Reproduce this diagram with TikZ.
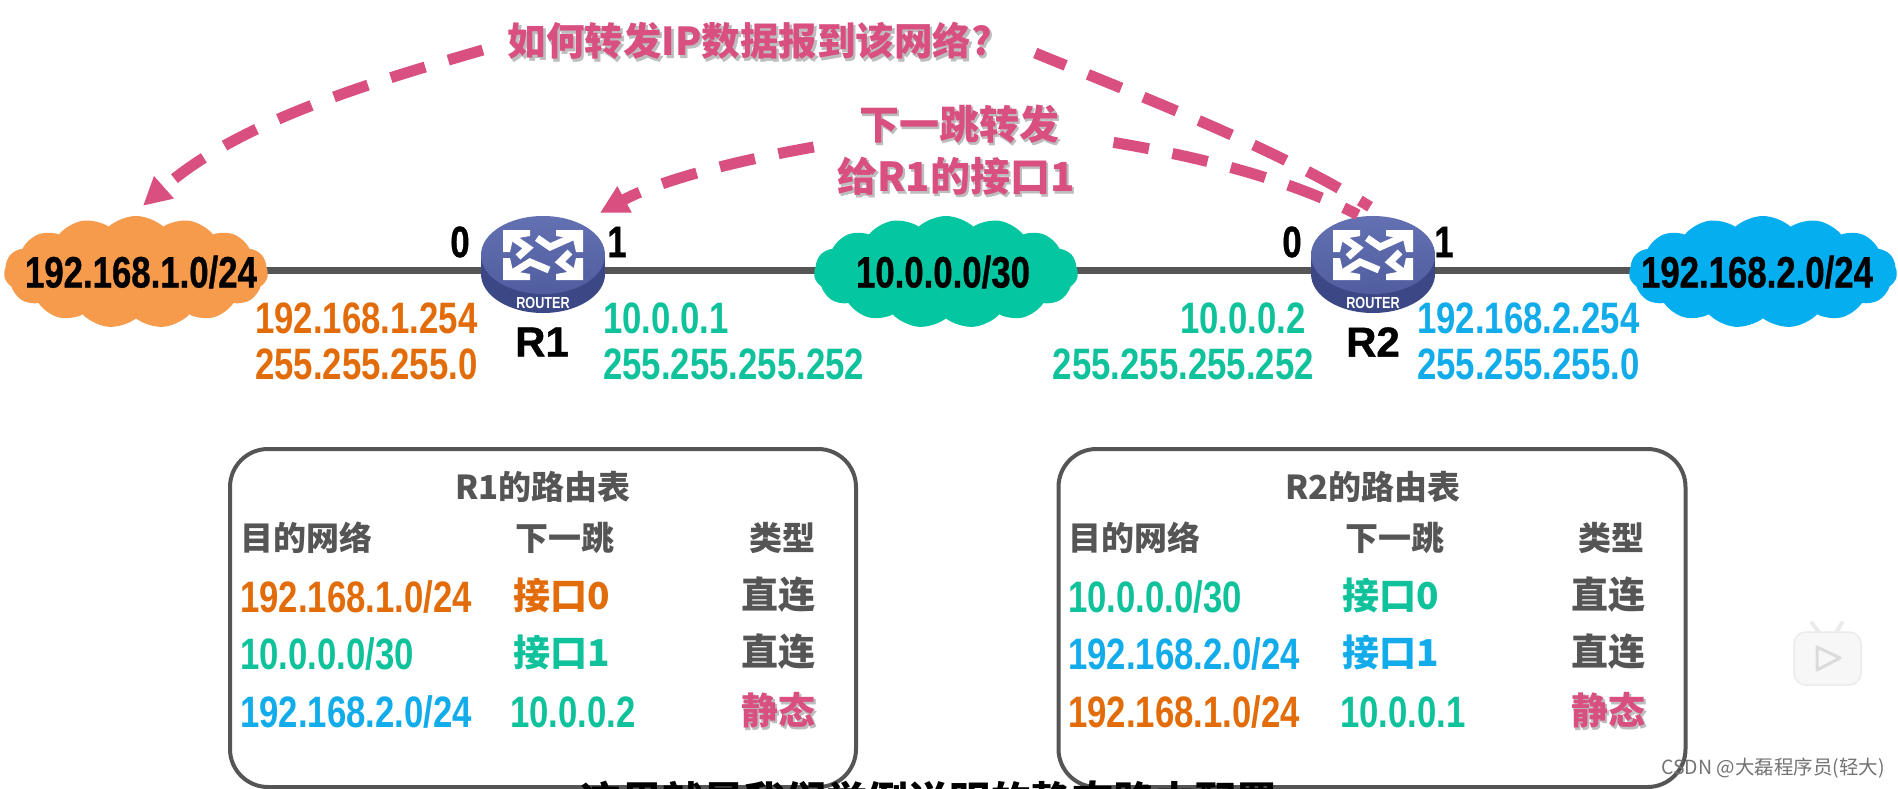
\documentclass[tikz,border=0pt]{standalone}
\usepackage{fontspec}
\usetikzlibrary{arrows.meta,shapes.symbols,shapes.geometric}
\newfontfamily\nf[FakeStretch=0.79]{Liberation Sans}
\newfontfamily\hv[FakeStretch=0.79,BoldFeatures={FakeBold=0.7}]{Liberation Sans}
\newfontfamily\rf[BoldFeatures={FakeBold=1.0}]{Liberation Sans}
\newfontfamily\cjk{Noto Sans CJK SC}
\newfontfamily\cjksh[BoldFeatures={FakeBold=1.4}]{Noto Sans CJK SC}
\definecolor{orangeT}{HTML}{E36C0A}
\definecolor{greenT}{HTML}{10C29B}
\definecolor{blueT}{HTML}{12ACEA}
\definecolor{pinkT}{HTML}{D84F80}
\definecolor{greyT}{HTML}{555555}
\definecolor{orangeC}{HTML}{F69A4C}
\definecolor{greenC}{HTML}{04C6A0}
\definecolor{blueC}{HTML}{04AEEF}
\definecolor{shadowT}{HTML}{BDBDBD}
\definecolor{routerS}{HTML}{3C4786}
\definecolor{routerA}{HTML}{6370B2}
\definecolor{routerB}{HTML}{505D9F}
\newcommand{\pinkt}[1]{\rlap{\raisebox{-2pt}{\hspace{1.5pt}\color{shadowT}\cjksh\bfseries #1}}#1}
\pgfdeclarelayer{bg}
\pgfsetlayers{bg,main}
\tikzset{
  num/.style={font=\nf\bfseries\fontsize{44}{48}\selectfont,inner sep=0pt,anchor=west},
  numE/.style={num,anchor=east},
  cjkbox/.style={font=\cjk\bfseries\fontsize{33}{38}\selectfont,inner sep=0pt,text=greyT},
  cjkrow/.style={font=\cjk\bfseries\fontsize{37}{42}\selectfont,inner sep=0pt},
  pinklab/.style={font=\cjk\bfseries\fontsize{40}{46}\selectfont,inner sep=0pt,text=pinkT},
  netcloud/.style={cloud,cloud puffs=15,cloud puff arc=85,aspect=2.3,inner sep=0pt,
     minimum width=264pt,minimum height=112pt,font=\hv\bfseries\fontsize{44}{48}\selectfont},
  routernode/.style={ellipse,minimum width=124pt,minimum height=86pt,inner sep=0pt},
  portlab/.style={font=\hv\bfseries\fontsize{44}{48}\selectfont,inner sep=0pt},
  rlab/.style={font=\rf\bfseries\fontsize{42}{46}\selectfont,inner sep=0pt},
  link/.style={line width=7pt,draw=greyT},
  pinkdash/.style={draw=pinkT,line width=11pt,dash pattern=on 36pt off 24pt},
  pinkhead/.style={-{Triangle[length=28pt,width=28pt]}},
  tablebox/.style={draw=greyT,line width=4pt,rounded corners=38pt},
  icon/.style={fill=white,draw=none},
  shaft/.style={draw=white,line width=7pt,line join=miter},
}
\newcommand{\routerdraw}[2]{%
  \node[routernode] (#1) at (#2,270) {};
  \begin{scope}[shift={(#2,0)}]
    \fill[routerS] (0,274) ellipse [x radius=62pt,y radius=39pt];
    \fill[routerS] (-62,255) rectangle (62,274);
    \shade[top color=routerA,bottom color=routerB] (0,255) ellipse [x radius=62pt,y radius=39pt];
    \fill[icon] (-40,230) -- (-13,230) -- (-13,236) -- (-30,239) -- (-33,252) -- (-40,252) -- cycle;
    \draw[shaft] (-34,235) -- (-15,248) -- (-25,257);
    \fill[icon] (40,230) -- (13,230) -- (13,236) -- (30,239) -- (33,252) -- (40,252) -- cycle;
    \draw[shaft] (34,235) -- (7,247) -- (-6,238);
    \fill[icon] (40,280) -- (13,280) -- (13,274) -- (30,271) -- (33,258) -- (40,258) -- cycle;
    \draw[shaft] (34,275) -- (17,262) -- (27,252);
    \fill[icon] (-40,280) -- (-13,280) -- (-13,274) -- (-30,271) -- (-33,258) -- (-40,258) -- cycle;
    \draw[shaft] (-34,275) -- (-13,262) -- (6,270);
    \node[inner sep=0pt,text=white,font=\nf\bfseries\fontsize{16}{17}\selectfont] (#1lab) at (0,303) {ROUTER};
  \end{scope}
}
\begin{document}
\begin{tikzpicture}[x=1pt,y=-1pt]
\useasboundingbox (0,0) rectangle (1898,788);
\begin{pgfonlayer}{bg}
  \fill[white] (0,0) rectangle (1898,788);
\end{pgfonlayer}

% clouds
\node[netcloud,fill=orangeC] (c1) at (136,272) {\makebox[0pt]{\hspace{10pt}\raisebox{-1pt}{192.168.1.0/24}}};
\node[netcloud,fill=greenC] (c2) at (946,272) {\makebox[0pt]{\hspace{-6pt}\raisebox{-1pt}{10.0.0.0/30}}};
\node[netcloud,fill=blueC,minimum width=268pt] (c3) at (1763,272) {\makebox[0pt]{\hspace{-12pt}\raisebox{-1pt}{192.168.2.0/24}}};

% routers
\routerdraw{r1}{543}
\routerdraw{r2}{1373}

\begin{pgfonlayer}{bg}
  \draw[link] (c1 |- r1) -- (r1);
  \draw[link] (r1) -- (c2 |- r1);
  \draw[link] (c2 |- r2) -- (r2);
  \draw[link] (r2) -- (c3 |- r2);
\end{pgfonlayer}

% port labels
\node[portlab] (p10) at (460,242) {0};
\node[portlab] (p11) at (617,242) {1};
\node[portlab] (p20) at (1292,242) {0};
\node[portlab] (p21) at (1444,242) {1};
\node[rlab] (r1name) at (542,342) {R1};
\node[rlab] (r2name) at (1373,342) {R2};

% addresses
\node[num,text=orangeT] (a1) at (255,318) {192.168.1.254};
\node[num,text=orangeT] (a2) at (255,364) {255.255.255.0};
\node[num,text=greenT] (a3) at (603,318) {10.0.0.1};
\node[num,text=greenT] (a4) at (603,364) {255.255.255.252};
\node[numE,text=greenT] (a5) at (1306,318) {10.0.0.2};
\node[numE,text=greenT] (a6) at (1314,364) {255.255.255.252};
\node[num,text=blueT] (a7) at (1417,318) {192.168.2.254};
\node[num,text=blueT] (a8) at (1417,364) {255.255.255.0};

% pink labels
\node[pinklab,font=\cjk\bfseries\fontsize{38.5}{44}\selectfont] (lab1) at (750,42) {\pinkt{如何转发IP数据报到该网络?}};
\node[pinklab] (lab2a) at (959,125) {\pinkt{下一跳转发}};
\node[pinklab] (lab2b) at (956,177) {\pinkt{给R1的接口1}};

% pink connectors
\draw[pinkdash,pinkhead] ([shift={(-25,8)}]lab1.west) .. controls (380,80) and (240,120) .. ([shift={(7,-10)}]c1.north);
\draw[pinkdash,dash phase=24pt] ([shift={(-3,-20)}]r2.north) .. controls (1280,150) and (1150,100) .. ([shift={(43,11)}]lab1.east);
\draw[pinkdash,pinkhead] ([shift={(-45,22)}]lab2a.west) .. controls (740,160) and (660,180) .. ([shift={(57,-14)}]r1.north);
\draw[pinkdash,dash phase=20pt] ([shift={(-15,-12)}]r2.north) .. controls (1300,185) and (1220,160) .. ([shift={(52,17)}]lab2a.east);

% table R1
\node[tablebox,minimum width=626pt,minimum height=338pt,inner sep=0pt] (t1) at (543,618) {};
\node[cjkbox] (t1title) at (543,487) {R1的路由表};
\node[cjkbox,anchor=west] (t1h1) at (240,538) {目的网络};
\node[cjkbox,anchor=west] (t1h2) at (515,538) {下一跳};
\node[cjkbox,anchor=west] (t1h3) at (749,538) {类型};
\node[num,text=orangeT] (t1a1) at (240,597) {192.168.1.0/24};
\node[cjkrow,anchor=west,text=orangeT] (t1b1) at (513,595) {接口0};
\node[cjkrow,anchor=west,text=greyT] (t1c1) at (741,595) {直连};
\node[num,text=greenT] (t1a2) at (240,654) {10.0.0.0/30};
\node[cjkrow,anchor=west,text=greenT] (t1b2) at (513,652) {接口1};
\node[cjkrow,anchor=west,text=greyT] (t1c2) at (741,652) {直连};
\node[num,text=blueT] (t1a3) at (240,712) {192.168.2.0/24};
\node[num,text=greenT] (t1b3) at (510,712) {10.0.0.2};
\node[cjkrow,anchor=west,text=pinkT] (t1c3) at (741,711) {\pinkt{静态}};

% table R2
\node[tablebox,minimum width=627pt,minimum height=338pt,inner sep=0pt] (t2) at (1372,618) {};
\node[cjkbox] (t2title) at (1373,487) {R2的路由表};
\node[cjkbox,anchor=west] (t2h1) at (1068,538) {目的网络};
\node[cjkbox,anchor=west] (t2h2) at (1345,538) {下一跳};
\node[cjkbox,anchor=west] (t2h3) at (1578,538) {类型};
\node[num,text=greenT] (t2a1) at (1068,597) {10.0.0.0/30};
\node[cjkrow,anchor=west,text=greenT] (t2b1) at (1342,595) {接口0};
\node[cjkrow,anchor=west,text=greyT] (t2c1) at (1571,595) {直连};
\node[num,text=blueT] (t2a2) at (1068,654) {192.168.2.0/24};
\node[cjkrow,anchor=west,text=blueT] (t2b2) at (1342,652) {接口1};
\node[cjkrow,anchor=west,text=greyT] (t2c2) at (1571,652) {直连};
\node[num,text=orangeT] (t2a3) at (1068,712) {192.168.1.0/24};
\node[num,text=greenT] (t2b3) at (1340,712) {10.0.0.1};
\node[cjkrow,anchor=west,text=pinkT] (t2c3) at (1571,711) {\pinkt{静态}};

% subtitle, cut by the lower edge
\begin{scope}
  \clip (0,0) rectangle (1898,788);
  \node[anchor=base,inner sep=0pt,font=\cjk\bfseries\fontsize{41}{44}\selectfont] (sub) at (929,816) {这里就是我们举例说明的静态路由配置};
\end{scope}

% bilibili mark
\draw[black!8,line width=4pt,line cap=round] (1812,623) -- (1820,634);
\draw[black!8,line width=4pt,line cap=round] (1842,623) -- (1835,634);
\fill[black!3,draw=black!8,line width=1.5pt,rounded corners=12pt] (1794,632) rectangle (1861,685);
\draw[black!14,line width=3pt,line join=round] (1817,647) -- (1840,658) -- (1817,670) -- cycle;

% watermark
\node[anchor=west,inner sep=0pt,text=black!55,font=\cjk\fontsize{19.5}{22}\selectfont] (wm) at (1661,768) {CSDN @大磊程序员(轻大)};
\end{tikzpicture}
\end{document}
